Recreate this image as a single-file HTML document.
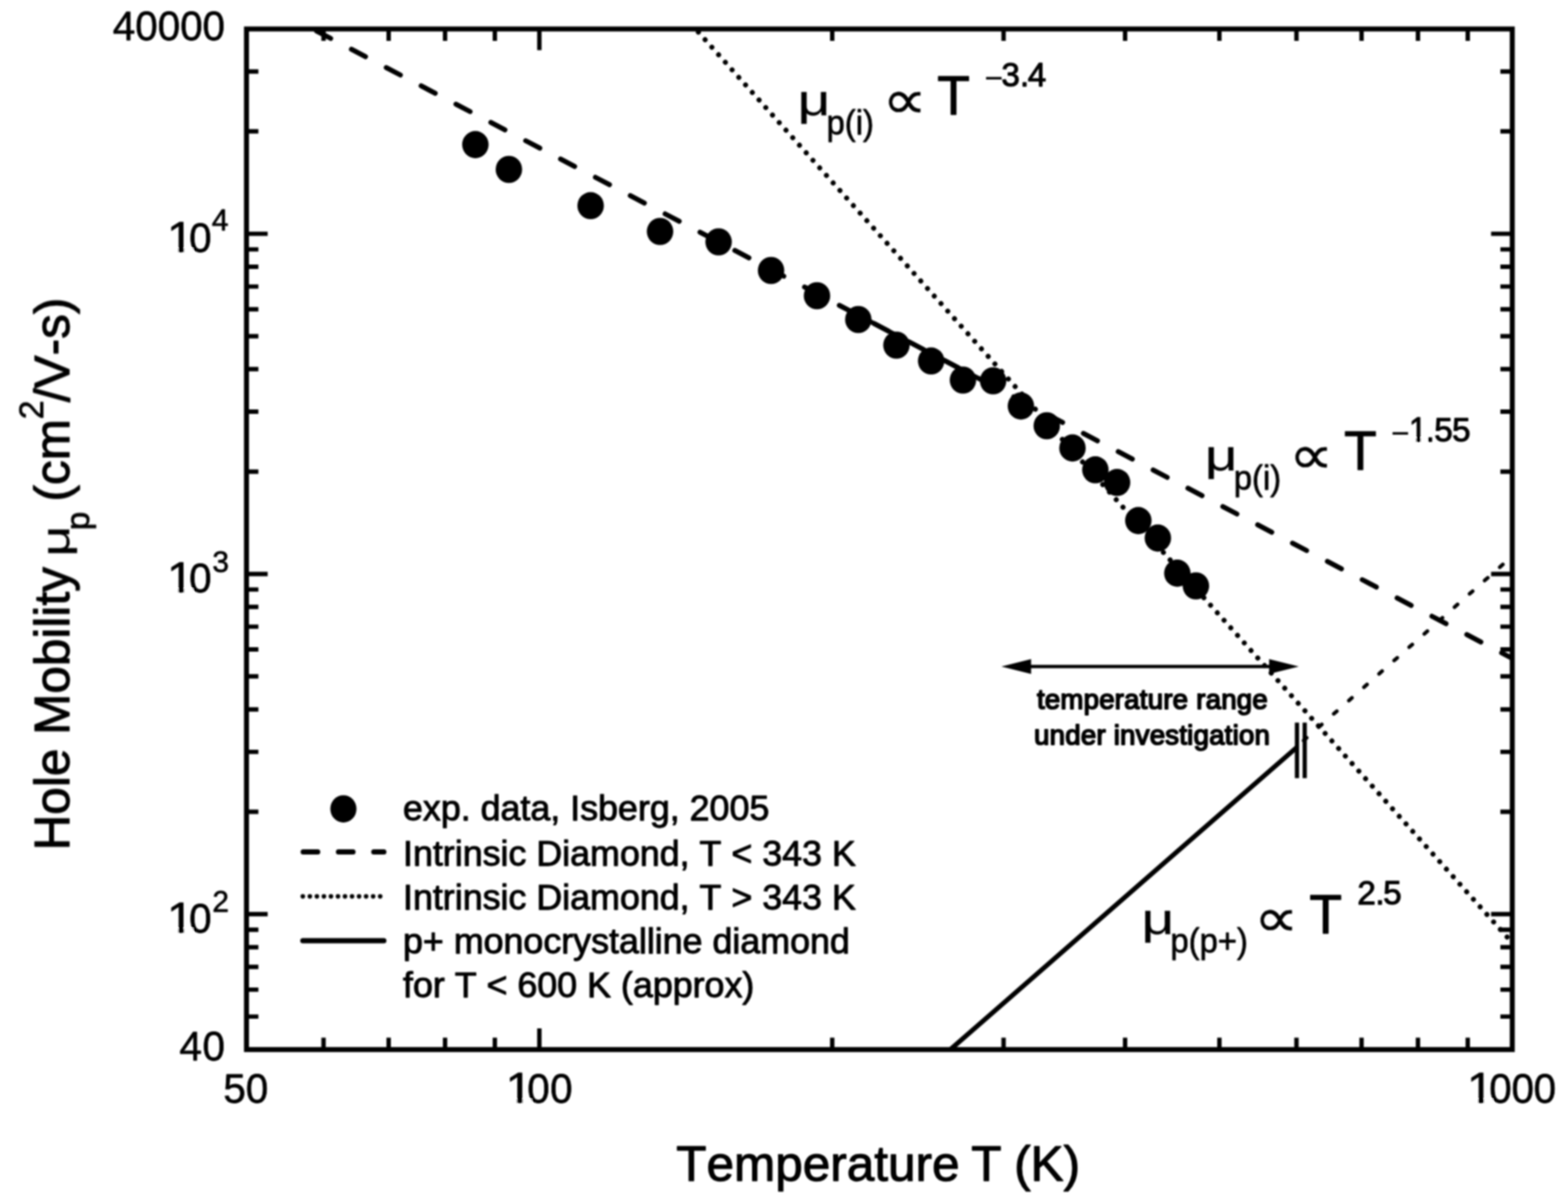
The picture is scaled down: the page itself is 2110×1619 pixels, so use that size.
<!DOCTYPE html>
<html lang="en">
<head>
<meta charset="utf-8">
<title>Hole mobility of diamond versus temperature</title>
<style>
html,body{margin:0;padding:0;background:#fff;}
body{width:2110px;height:1619px;overflow:hidden;}
svg{display:block;}
</style>
</head>
<body>
<svg width="2110" height="1619" viewBox="0 0 2110 1619" font-family='"Liberation Sans", sans-serif' fill="#000">
<style>text{stroke:#000;stroke-linejoin:round;font-kerning:none;white-space:pre;}</style>
<defs><filter id="soft" x="0" y="0" width="100%" height="100%" filterUnits="userSpaceOnUse" primitiveUnits="userSpaceOnUse"><feGaussianBlur stdDeviation="1.1"/></filter><clipPath id="plot"><rect x="331.7" y="39.0" width="1703.3" height="1373.5"/></clipPath></defs>
<rect x="0" y="0" width="2110" height="1619" fill="#fff"/>
<g id="chart" filter="url(#soft)">
<g clip-path="url(#plot)" fill="none" stroke="#000">
<path d="M426.0 41.7L2035.0 886.1" stroke-width="6.7" stroke-linecap="round" stroke-dasharray="21.4 31.57" stroke-dashoffset="-0.0"/>
<path d="M1129.7 411.0L1340.5 521.6" stroke-width="6.3" stroke-linecap="round"/>
<path d="M936.0 39.0L2035.0 1268.8" stroke-width="6.8" stroke-linecap="round" stroke-dasharray="0.01 13.6" stroke-dashoffset="-5.7"/>
<path d="M1754.2 996.6L2044.3 740.2" stroke-width="5" stroke-linecap="round" stroke-dasharray="5.5 21.6"/>
<path d="M1277.1 1414L1745.5 1005.3" stroke-width="6.4" stroke-linecap="butt"/>
</g>
<path d="M1745.3 972.5V1047.3M1755.7 972.5V1047.3" stroke="#000" stroke-width="5.7" fill="none"/>
<ellipse cx="639.7" cy="194.6" rx="17.8" ry="18.3"/>
<ellipse cx="684.8" cy="228.0" rx="17.8" ry="18.3"/>
<ellipse cx="794.8" cy="276.8" rx="17.8" ry="18.3"/>
<ellipse cx="888.2" cy="311.5" rx="17.8" ry="18.3"/>
<ellipse cx="967.0" cy="325.5" rx="17.8" ry="18.3"/>
<ellipse cx="1037.6" cy="364.0" rx="17.8" ry="18.3"/>
<ellipse cx="1099.4" cy="398.0" rx="17.8" ry="18.3"/>
<ellipse cx="1155.0" cy="430.0" rx="17.8" ry="18.3"/>
<ellipse cx="1206.3" cy="464.5" rx="17.8" ry="18.3"/>
<ellipse cx="1253.0" cy="485.8" rx="17.8" ry="18.3"/>
<ellipse cx="1295.8" cy="511.5" rx="17.8" ry="18.3"/>
<ellipse cx="1336.4" cy="512.5" rx="17.8" ry="18.3"/>
<ellipse cx="1373.8" cy="546.4" rx="17.8" ry="18.3"/>
<ellipse cx="1408.6" cy="573.0" rx="17.8" ry="18.3"/>
<ellipse cx="1443.2" cy="602.9" rx="17.8" ry="18.3"/>
<ellipse cx="1474.0" cy="632.3" rx="17.8" ry="18.3"/>
<ellipse cx="1503.2" cy="649.3" rx="17.8" ry="18.3"/>
<ellipse cx="1531.8" cy="700.6" rx="17.8" ry="18.3"/>
<ellipse cx="1558.1" cy="724.1" rx="17.8" ry="18.3"/>
<ellipse cx="1584.3" cy="771.4" rx="17.8" ry="18.3"/>
<ellipse cx="1609.3" cy="788.5" rx="17.8" ry="18.3"/>
<rect x="331.7" y="39.0" width="1703.3" height="1373.5" fill="none" stroke="#000" stroke-width="6.7"/>
<path d="M435.4 1412.5v-16.0M435.4 39.0v16.0M523.0 1412.5v-16.0M523.0 39.0v16.0M598.9 1412.5v-16.0M598.9 39.0v16.0M665.9 1412.5v-16.0M665.9 39.0v16.0M725.8 1412.5v-28.5M725.8 39.0v28.5M1119.9 1412.5v-16.0M1119.9 39.0v16.0M1350.5 1412.5v-16.0M1350.5 39.0v16.0M1514.0 1412.5v-16.0M1514.0 39.0v16.0M1640.9 1412.5v-16.0M1640.9 39.0v16.0M1744.6 1412.5v-16.0M1744.6 39.0v16.0M1832.2 1412.5v-16.0M1832.2 39.0v16.0M1908.1 1412.5v-16.0M1908.1 39.0v16.0M1975.1 1412.5v-16.0M1975.1 39.0v16.0M331.7 1368.1h16.0M2035.0 1368.1h-16.0M331.7 1331.9h16.0M2035.0 1331.9h-16.0M331.7 1301.2h16.0M2035.0 1301.2h-16.0M331.7 1274.7h16.0M2035.0 1274.7h-16.0M331.7 1251.3h16.0M2035.0 1251.3h-16.0M331.7 1230.3h28.5M2035.0 1230.3h-28.5M331.7 1092.5h16.0M2035.0 1092.5h-16.0M331.7 1011.9h16.0M2035.0 1011.9h-16.0M331.7 954.7h16.0M2035.0 954.7h-16.0M331.7 910.3h16.0M2035.0 910.3h-16.0M331.7 874.0h16.0M2035.0 874.0h-16.0M331.7 843.4h16.0M2035.0 843.4h-16.0M331.7 816.8h16.0M2035.0 816.8h-16.0M331.7 793.4h16.0M2035.0 793.4h-16.0M331.7 772.5h28.5M2035.0 772.5h-28.5M331.7 634.7h16.0M2035.0 634.7h-16.0M331.7 554.0h16.0M2035.0 554.0h-16.0M331.7 496.8h16.0M2035.0 496.8h-16.0M331.7 452.5h16.0M2035.0 452.5h-16.0M331.7 416.2h16.0M2035.0 416.2h-16.0M331.7 385.6h16.0M2035.0 385.6h-16.0M331.7 359.0h16.0M2035.0 359.0h-16.0M331.7 335.6h16.0M2035.0 335.6h-16.0M331.7 314.6h28.5M2035.0 314.6h-28.5M331.7 176.8h16.0M2035.0 176.8h-16.0M331.7 96.2h16.0M2035.0 96.2h-16.0" stroke="#000" stroke-width="5.9" fill="none"/>
<text transform="translate(0 53.9) scale(1 1.025)" font-size="54.4" stroke-width="0.8"><tspan x="151.7 181.9 212.2 242.4 272.5" y="0.00">40000</tspan></text>
<text transform="translate(0 1427.3) scale(1 1.025)" font-size="54.4" stroke-width="0.8"><tspan x="241.4 272.5" y="0.00">40</tspan></text>
<text transform="translate(0 339.3) scale(1 1.025)" font-size="54.4" stroke-width="0.8"><tspan y="0" x="224.79" font-size="56.26" textLength="35.70" lengthAdjust="spacingAndGlyphs">1</tspan><tspan x="254.50" y="0.00">0</tspan><tspan x="285.10" y="-28.15" font-size="40.30">4</tspan></text>
<path d="M227.2 334H239.86V342.8H227.2zM247.67 334H259.9V342.8H247.67z" fill="#fff"/>
<text transform="translate(0 797.2) scale(1 1.025)" font-size="54.4" stroke-width="0.8"><tspan y="0" x="224.79" font-size="56.26" textLength="35.70" lengthAdjust="spacingAndGlyphs">1</tspan><tspan x="254.50" y="0.00">0</tspan><tspan x="285.80" y="-26.56" font-size="40.30">3</tspan></text>
<path d="M227.2 792H239.86V800.7H227.2zM247.67 792H259.9V800.7H247.67z" fill="#fff"/>
<text transform="translate(0 1255.0) scale(1 1.025)" font-size="54.4" stroke-width="0.8"><tspan y="0" x="224.79" font-size="56.26" textLength="35.70" lengthAdjust="spacingAndGlyphs">1</tspan><tspan x="254.50" y="0.00">0</tspan><tspan x="285.80" y="-27.21" font-size="40.30">2</tspan></text>
<path d="M227.2 1249H239.86V1258.5H227.2zM247.67 1249H259.9V1258.5H247.67z" fill="#fff"/>
<text transform="translate(0 1484.3) scale(1 1.025)" font-size="54.4" stroke-width="0.8"><tspan x="300.6 330.7" y="0.00">50</tspan></text>
<text transform="translate(0 1484.3) scale(1 1.025)" font-size="54.4" stroke-width="0.8"><tspan y="0" x="680.49" font-size="56.26" textLength="35.70" lengthAdjust="spacingAndGlyphs">1</tspan><tspan x="709.5 740.2" y="0.00">00</tspan></text>
<path d="M682.9 1479H695.56V1487.8H682.9zM703.37 1479H715.6V1487.8H703.37z" fill="#fff"/>
<text transform="translate(0 1484.3) scale(1 1.025)" font-size="54.4" stroke-width="0.8"><tspan y="0" x="1973.99" font-size="56.26" textLength="35.70" lengthAdjust="spacingAndGlyphs">1</tspan><tspan x="2003.9 2033.9 2063.8" y="0.00">000</tspan></text>
<path d="M1976.4 1479H1989.06V1487.8H1976.4zM1996.87 1479H2009.1V1487.8H1996.87z" fill="#fff"/>
<text font-size="66.6" stroke-width="1.4"><tspan x="910.00" y="1589.00">Temperature </tspan><tspan x="1306.90">T </tspan><tspan x="1364.70">(K)</tspan></text>
<text transform="translate(93.0 1144.5) rotate(-90)" font-size="66.6" stroke-width="1.3"><tspan x="0.00" y="0.00">Hole Mobility </tspan><tspan x="395.50" y="0.00" font-size="54.00" stroke-width="0.4" textLength="41.69" lengthAdjust="spacingAndGlyphs">μ</tspan><tspan x="431.00" y="27.00" font-size="44.50" stroke-width="1.0">p </tspan><tspan x="469.50" y="0.00">(cm</tspan><tspan x="580.30" y="-35.50" font-size="45.50" stroke-width="0.9">2</tspan><tspan x="603.30" y="0.00">/V-s)</tspan></text>
<text font-size="44.805" stroke-width="1.3"><tspan x="1073.20" y="155.00" font-size="60.00" stroke-width="0.3" textLength="44.25" lengthAdjust="spacingAndGlyphs">μ</tspan><tspan x="1112.30" y="180.50" font-size="45.50" stroke-width="0.9" textLength="63.75" lengthAdjust="spacingAndGlyphs">p(i)</tspan><tspan x="1175.00" y="155.00" font-size="20.00"> </tspan><tspan x="1187.50" y="158.50" font-size="72.58" stroke-width="0.5" font-family='"Liberation Sans", "DejaVu Sans", sans-serif' textLength="59.72" lengthAdjust="spacingAndGlyphs">∝</tspan><tspan x="1247.50" y="155.00" font-size="20.00"> </tspan><tspan x="1261.30" y="154.00" font-size="74.00" stroke-width="1.3" textLength="43.85" lengthAdjust="spacingAndGlyphs">T</tspan><tspan x="1311.30" y="115.60" font-size="20.00"> </tspan><tspan x="1325.00" y="119.70" font-size="44.50" stroke-width="0.2" textLength="24.95" lengthAdjust="spacingAndGlyphs">−</tspan><tspan x="1347.6 1372.6 1383.0" y="115.60">3.4</tspan></text>
<text font-size="44.805" stroke-width="1.3"><tspan x="1621.20" y="633.00" font-size="60.00" stroke-width="0.3" textLength="44.25" lengthAdjust="spacingAndGlyphs">μ</tspan><tspan x="1660.30" y="658.50" font-size="45.50" stroke-width="0.9" textLength="63.75" lengthAdjust="spacingAndGlyphs">p(i)</tspan><tspan x="1723.00" y="633.00" font-size="20.00"> </tspan><tspan x="1734.50" y="636.50" font-size="72.58" stroke-width="0.5" font-family='"Liberation Sans", "DejaVu Sans", sans-serif' textLength="59.72" lengthAdjust="spacingAndGlyphs">∝</tspan><tspan x="1794.50" y="633.00" font-size="20.00"> </tspan><tspan x="1808.80" y="632.00" font-size="74.00" stroke-width="1.3" textLength="43.85" lengthAdjust="spacingAndGlyphs">T</tspan><tspan x="1858.80" y="593.60" font-size="20.00"> </tspan><tspan x="1872.00" y="597.70" font-size="44.50" stroke-width="0.2" textLength="24.95" lengthAdjust="spacingAndGlyphs">−</tspan><tspan y="593.60" x="1895.92" font-size="45.68" textLength="24.19" lengthAdjust="spacingAndGlyphs">1</tspan><tspan x="1918.2 1930.0 1954.0" y="593.60">.55</tspan></text>
<path d="M1896.7 589H1905.61V597.1H1896.7zM1911.95 589H1920.5V597.1H1911.95z" fill="#fff"/>
<text font-size="44.805" stroke-width="1.3"><tspan x="1535.90" y="1256.50" font-size="60.00" stroke-width="0.3" textLength="44.25" lengthAdjust="spacingAndGlyphs">μ</tspan><tspan x="1575.00" y="1282.00" font-size="45.50" stroke-width="0.9" textLength="104.26" lengthAdjust="spacingAndGlyphs">p(p+)</tspan><tspan x="1637.70" y="1256.50" font-size="20.00"> </tspan><tspan x="1687.50" y="1260.00" font-size="72.58" stroke-width="0.5" font-family='"Liberation Sans", "DejaVu Sans", sans-serif' textLength="59.72" lengthAdjust="spacingAndGlyphs">∝</tspan><tspan x="1747.50" y="1256.50" font-size="20.00"> </tspan><tspan x="1762.00" y="1255.50" font-size="74.00" stroke-width="1.3" textLength="43.85" lengthAdjust="spacingAndGlyphs">T</tspan><tspan x="1812.00" y="1217.10" font-size="20.00"> </tspan><tspan x="1826.4 1850.8 1861.3" y="1217.10">2.5</tspan></text>
<path d="M1385 897H1710" stroke="#000" stroke-width="4.4" fill="none"/>
<path d="M1347.5 897L1387.5 887V907ZM1747.8 897L1707.8 887V907Z"/>
<text x="1395.4" y="954.0" font-size="37.0" stroke-width="2.1" letter-spacing="0.38">temperature range</text>
<text x="1391.6" y="1002.0" font-size="37.0" stroke-width="2.1" letter-spacing="0.37">under investigation</text>
<ellipse cx="462.1" cy="1088.6" rx="17.6" ry="18.4"/>
<path d="M408 1146.6H516.5" stroke="#000" stroke-width="7" stroke-linecap="round" fill="none" stroke-dasharray="19.5 28"/>
<path d="M407.5 1206.3H512" stroke="#000" stroke-width="6.2" stroke-linecap="round" fill="none" stroke-dasharray="0.01 9.45"/>
<path d="M407.5 1266.1H516.5" stroke="#000" stroke-width="7" stroke-linecap="round" fill="none"/>
<text x="542.3" y="1104.0" font-size="48.2" stroke-width="1.25">exp. data, Isberg, 2005</text>
<text x="542.3" y="1164.8" font-size="48.2" stroke-width="1.25">Intrinsic Diamond, T &lt; 343 K</text>
<text x="542.3" y="1223.7" font-size="48.2" stroke-width="1.25">Intrinsic Diamond, T &gt; 343 K</text>
<text x="542.3" y="1283.0" font-size="48.2" stroke-width="1.25">p+ monocrystalline diamond</text>
<text x="542.3" y="1341.5" font-size="48.2" stroke-width="1.25">for T &lt; 600 K (approx)</text>
</g>
</svg>
</body>
</html>
